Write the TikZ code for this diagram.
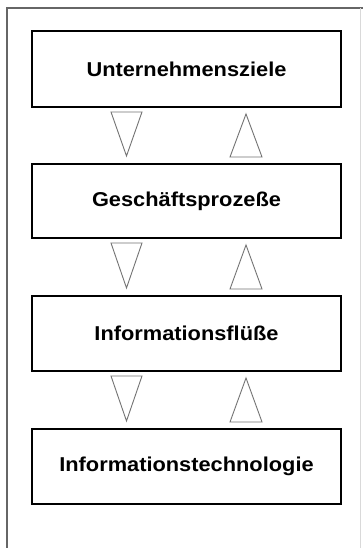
\documentclass[tikz,border=0pt]{standalone}
\usepackage{fontspec}
\setmainfont{Liberation Sans}
\usetikzlibrary{calc}
\begin{document}
\begin{tikzpicture}[x=1pt,y=-1pt,
  layerbox/.style={draw=black,line width=2pt,fill=white,minimum width=309pt,inner sep=0pt,
    font=\fontsize{21.8}{24}\selectfont\bfseries},
  tri/.style={draw=black!55,line width=0.9pt,line join=miter}]
\useasboundingbox (0,0) rectangle (363,548);
\fill[white] (0,0) rectangle (363,548);
% outer frame
\draw[black!60,line width=1.4pt] (7,548) -- (7,8) -- (363,8);
\draw[black!15,line width=1pt] (360,8) -- (360,548);
% boxes
\node[layerbox,minimum height=76pt] (b1) at (186.5,69) {\scalebox{1}[0.92]{Unternehmensziele}};
\node[layerbox,minimum height=74pt] (b2) at (186.5,201) {\scalebox{1}[0.92]{Geschäftsprozeße}};
\node[layerbox,minimum height=75pt] (b3) at (186.5,333.5) {\scalebox{1}[0.92]{Informationsflüße}};
\node[layerbox,minimum height=75pt] (b4) at (186.5,466.5) {\scalebox{1}[0.92]{Informationstechnologie}};
% triangles between boxes
\foreach \u/\l in {b1/b2,b2/b3,b3/b4}{
  \draw[tri] ($(\u.south west)+(80,4)$) -- ($(\u.south west)+(111,4)$) -- ($(\l.north west)+(95.5,-7)$) -- cycle;
  \draw[tri] ($(\u.south west)+(215,6)$) -- ($(\l.north west)+(231,-6)$) -- ($(\l.north west)+(199,-6)$) -- cycle;
}
\end{tikzpicture}
\end{document}
